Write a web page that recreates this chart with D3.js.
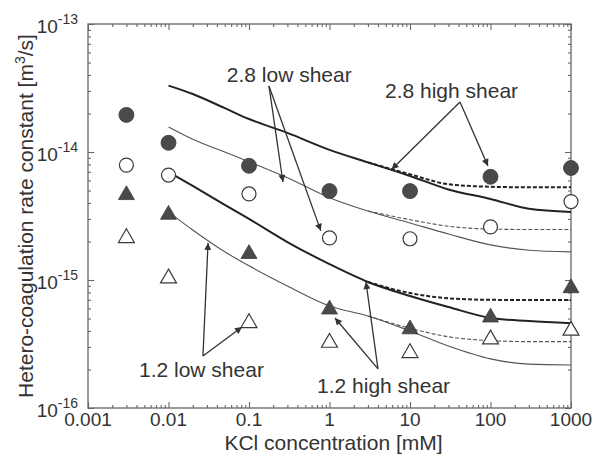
<!DOCTYPE html>
<html lang="en">
<head>
<meta charset="utf-8">
<title>Hetero-coagulation rate constant</title>
<script src="https://cdn.jsdelivr.net/npm/d3@7"></script>
<style>
  body { margin: 0; background: #fff; }
  text { font-family: "Liberation Sans", Arial, sans-serif; fill: #333; }
</style>
</head>
<body>
<div id="chart"></div>
<script>
// measured points, KCl concentration [mM]
var conc = [0.003, 0.01, 0.1, 1, 10, 100, 1000];
var high28 = [1.95e-14, 1.18e-14, 7.8e-15, 4.95e-15, 4.95e-15, 6.4e-15, 7.5e-15];   // filled circles
var low28  = [7.9e-15, 6.6e-15, 4.7e-15, 2.13e-15, 2.1e-15, 2.6e-15, 4.1e-15];      // open circles
var high12 = [4.7e-15, 3.3e-15, 1.63e-15, 6.0e-16, 4.2e-16, 5.2e-16, 8.8e-16];      // filled triangles
var low12  = [2.17e-15, 1.05e-15, 4.7e-16, 3.3e-16, 2.74e-16, 3.5e-16, 4.1e-16];    // open triangles

// model curves
var curveX = [0.01, 0.02, 0.05, 0.1, 0.3, 1, 3, 10, 30, 100, 300, 1000];
var fit28high = [3.3e-14, 2.84e-14, 2.2e-14, 1.81e-14, 1.41e-14, 1.04e-14, 8.3e-15, 6.5e-15, 5.1e-15, 4.3e-15, 3.6e-15, 3.4e-15];
var fit28low  = [1.57e-14, 1.26e-14, 1.0e-14, 8.4e-15, 6.3e-15, 4.4e-15, 3.46e-15, 2.79e-15, 2.29e-15, 1.88e-15, 1.71e-15, 1.66e-15];
var fit12high = [6.98e-15, 5.43e-15, 3.86e-15, 3.0e-15, 1.98e-15, 1.33e-15, 9.65e-16, 7.5e-16, 6.15e-16, 5.05e-16, 4.78e-16, 4.6e-16];
var fit12low  = [3.4e-15, 2.46e-15, 1.66e-15, 1.29e-15, 8.97e-16, 6.26e-16, 5.24e-16, 4.0e-16, 3.05e-16, 2.42e-16, 2.2e-16, 2.17e-16];

// dashed branches at high concentration
var dashX = [3, 10, 30, 100, 300, 1000];
var dash28high = [8.3e-15, 6.7e-15, 5.6e-15, 5.35e-15, 5.3e-15, 5.3e-15];
var dash28low  = [3.46e-15, 2.96e-15, 2.63e-15, 2.5e-15, 2.48e-15, 2.48e-15];
var dash12high = [9.65e-16, 7.9e-16, 7.2e-16, 7.0e-16, 6.98e-16, 6.98e-16];
var dash12low  = [5.24e-16, 4.2e-16, 3.6e-16, 3.36e-16, 3.3e-16, 3.3e-16];

var xTicks = [0.001, 0.01, 0.1, 1, 10, 100, 1000];
var xTickLabels = ["0.001", "0.01", "0.1", "1", "10", "100", "1000"];
var yTicks = [1e-16, 1e-15, 1e-14, 1e-13];
var yTickExp = ["-16", "-15", "-14", "-13"];

// annotations: label anchor and arrow tips in data units
var notes = [
  {text: "2.8 low shear", x: 0.053, y: 3.52e-14, from: [0.177, 3.28e-14], to: [[0.264, 5.83e-15], [0.78, 2.42e-15]]},
  {text: "2.8 high shear", x: 4.89, y: 2.64e-14, from: [41.8, 2.46e-14], to: [[5.9, 7.3e-15], [93, 7.78e-15]]},
  {text: "1.2 low shear", x: 0.0043, y: 1.75e-16, from: [0.0268, 2.55e-16], to: [[0.031, 1.95e-15], [0.0819, 4.3e-16]]},
  {text: "1.2 high shear", x: 0.70, y: 1.31e-16, from: [4.0, 2.02e-16], to: [[2.84, 9.64e-16], [1.17, 5.05e-16]]}
];

var w = 598, h = 458;
var m = {left: 88, top: 24, right: 27, bottom: 50};
var pw = w - m.left - m.right, ph = h - m.top - m.bottom;

var x = d3.scaleLog().domain([0.001, 1000]).range([0, pw]);
var y = d3.scaleLog().domain([1e-16, 1e-13]).range([ph, 0]);

var svg = d3.select("#chart").append("svg")
  .attr("width", w).attr("height", h);

var defs = svg.append("defs");
defs.append("marker")
  .attr("id", "head")
  .attr("viewBox", "0 0 10 10")
  .attr("refX", 10).attr("refY", 5)
  .attr("markerWidth", 10).attr("markerHeight", 7)
  .attr("markerUnits", "userSpaceOnUse")
  .attr("orient", "auto")
  .append("path").attr("d", "M0,0L10,5L0,10Z").attr("fill", "#333");

var g = svg.append("g").attr("transform", "translate(" + m.left + "," + m.top + ")");

// minor tick values
var xMinor = [], yMinor = [];
xTicks.slice(0, -1).forEach(function(d) { for (var k = 2; k < 10; k++) xMinor.push(d * k); });
yTicks.slice(0, -1).forEach(function(d) { for (var k = 2; k < 10; k++) yMinor.push(d * k); });

function styleAxis(sel) {
  sel.select(".domain").remove();
  sel.selectAll("line").attr("stroke", "#666").attr("stroke-width", 1.1);
  sel.selectAll("text").remove();
}

g.append("g").attr("transform", "translate(0," + ph + ")")
  .call(d3.axisBottom(x).tickValues(xTicks).tickSize(-6)).call(styleAxis);
g.append("g").attr("transform", "translate(0," + ph + ")")
  .call(d3.axisBottom(x).tickValues(xMinor).tickSize(-3)).call(styleAxis);
g.append("g")
  .call(d3.axisTop(x).tickValues(xTicks).tickSize(-6)).call(styleAxis);
g.append("g")
  .call(d3.axisTop(x).tickValues(xMinor).tickSize(-3)).call(styleAxis);
g.append("g")
  .call(d3.axisLeft(y).tickValues(yTicks).tickSize(-6)).call(styleAxis);
g.append("g")
  .call(d3.axisLeft(y).tickValues(yMinor).tickSize(-3)).call(styleAxis);
g.append("g").attr("transform", "translate(" + pw + ",0)")
  .call(d3.axisRight(y).tickValues(yTicks).tickSize(-6)).call(styleAxis);
g.append("g").attr("transform", "translate(" + pw + ",0)")
  .call(d3.axisRight(y).tickValues(yMinor).tickSize(-3)).call(styleAxis);

g.append("rect")
  .attr("width", pw).attr("height", ph)
  .attr("fill", "none").attr("stroke", "#666").attr("stroke-width", 1.3);

// tick labels
g.selectAll(".xlab").data(xTicks).enter().append("text")
  .attr("x", function(d) { return x(d); })
  .attr("y", ph + 18)
  .attr("text-anchor", "middle")
  .style("font-size", "19px")
  .text(function(d, i) { return xTickLabels[i]; });

var yl = g.selectAll(".ylab").data(yTicks).enter().append("text")
  .attr("x", -10)
  .attr("y", function(d) { return y(d) + 9; })
  .attr("text-anchor", "end")
  .style("font-size", "19px");
yl.append("tspan").text("10");
yl.append("tspan").attr("dy", -9).style("font-size", "14px")
  .text(function(d, i) { return yTickExp[i]; });

// axis titles
svg.append("text")
  .attr("x", m.left + pw / 2 + 4).attr("y", 450)
  .attr("text-anchor", "middle")
  .style("font-size", "21px")
  .text("KCl concentration [mM]");

var yt = svg.append("text")
  .attr("transform", "translate(33,216) rotate(-90)")
  .attr("text-anchor", "middle")
  .style("font-size", "21px");
yt.append("tspan").text("Hetero-coagulation rate constant [m");
yt.append("tspan").attr("dy", -8).style("font-size", "14px").text("3");
yt.append("tspan").attr("dy", 8).text("/s]");

// model curves
var line = d3.line()
  .x(function(d) { return x(d[0]); })
  .y(function(d) { return y(d[1]); })
  .curve(d3.curveMonotoneX);

function drawCurve(xs, ys, width, color, dash) {
  g.append("path")
    .datum(xs.map(function(v, i) { return [v, ys[i]]; }))
    .attr("d", line)
    .attr("fill", "none")
    .attr("stroke", color)
    .attr("stroke-width", width)
    .attr("stroke-dasharray", dash || null);
}

drawCurve(dashX, dash28high, 2, "#222", "4,2");
drawCurve(dashX, dash28low, 1.1, "#555", "4,2");
drawCurve(dashX, dash12high, 2, "#222", "4,2");
drawCurve(dashX, dash12low, 1.1, "#555", "4,2");
drawCurve(curveX, fit28high, 2, "#222");
drawCurve(curveX, fit28low, 1.1, "#555");
drawCurve(curveX, fit12high, 2, "#222");
drawCurve(curveX, fit12low, 1.1, "#555");

// markers
var tri = d3.symbol().type(d3.symbolTriangle).size(110);

function drawCircles(vals, filled) {
  g.selectAll(null).data(vals).enter().append("circle")
    .attr("cx", function(d, i) { return x(conc[i]); })
    .attr("cy", function(d) { return y(d); })
    .attr("r", filled ? 7.5 : 7)
    .attr("fill", filled ? "#4a4a4a" : "#fff")
    .attr("stroke", "#3a3a3a")
    .attr("stroke-width", filled ? 0.8 : 1.2);
}

function drawTriangles(vals, filled) {
  g.selectAll(null).data(vals).enter().append("path")
    .attr("d", tri)
    .attr("transform", function(d, i) { return "translate(" + x(conc[i]) + "," + (y(d) + 1) + ")"; })
    .attr("fill", filled ? "#4a4a4a" : "#fff")
    .attr("stroke", "#3a3a3a")
    .attr("stroke-width", filled ? 0.8 : 1.2);
}

drawCircles(high28, true);
drawCircles(low28, false);
drawTriangles(high12, true);
drawTriangles(low12, false);

// annotations
notes.forEach(function(n) {
  g.append("text")
    .attr("x", x(n.x)).attr("y", y(n.y))
    .style("font-size", "21px")
    .text(n.text);
  n.to.forEach(function(t) {
    g.append("line")
      .attr("x1", x(n.from[0])).attr("y1", y(n.from[1]))
      .attr("x2", x(t[0])).attr("y2", y(t[1]))
      .attr("stroke", "#333").attr("stroke-width", 1.3)
      .attr("marker-end", "url(#head)");
  });
});
</script>
</body>
</html>
